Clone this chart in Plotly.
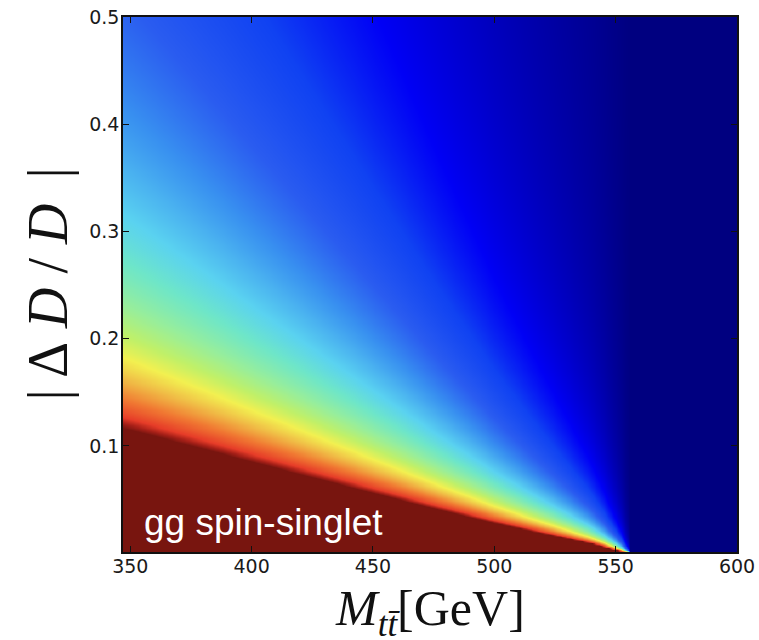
import numpy as np
import plotly.graph_objects as go

# ---- values ----
# top-pair invariant mass sample points (GeV) and the |ΔD/D| at which the
# colour saturates (dark red edge) at each of them
mass_gev = [347, 375, 400, 425, 450, 475, 500, 515, 527, 540, 556, 600]
dd_saturation = [0.117, 0.1005, 0.0855, 0.0708, 0.0562, 0.0418, 0.0282, 0.0208, 0.0152, 0.0092, 0.0, 0.0]

# colour stops (relative significance -> colour)
stop_pos = [0.0, 0.11, 0.165, 0.225, 0.282, 0.325, 0.37, 0.43, 0.505, 0.575, 0.64, 0.715, 0.815, 0.921, 0.965, 1.0]
stop_col = ["#000080", "#0000f5", "#1042f2", "#2a5cf0", "#3890f0", "#4ab2f0", "#5ad2f0", "#6ee6c8",
            "#98ee9a", "#c0f068", "#f2f050", "#f0be46", "#f07832", "#e63c28", "#a82018", "#78150f"]

x_ticks = [350, 400, 450, 500, 550, 600]
y_ticks = [0.1, 0.2, 0.3, 0.4, 0.5]
x_range = [347, 600]
y_range = [0.001, 0.5]
label_text = "gg spin-singlet"

# ---- field on a grid: significance scales as k(M) / (ΔD/D) ----
xs = np.arange(347, 600.5, 1.0)
ys = np.arange(0.001, 0.5011, 0.002)
k = np.interp(xs, mass_gev, dd_saturation)
Z = np.minimum(k[None, :] / ys[:, None], 1.02)
Z = np.round(Z, 4)

colorscale = [[p, c] for p, c in zip(stop_pos, stop_col)]

fig = go.Figure(go.Heatmap(
    x=xs, y=ys, z=Z, zmin=0, zmax=1, zsmooth="best",
    colorscale=colorscale, showscale=False, hoverinfo="skip"))

tickfont = dict(family="DejaVu Sans", size=19, color="#1a1a1a")
axis_common = dict(ticks="inside", ticklen=6, tickwidth=1.3, tickcolor="#111",
                   showline=True, linecolor="#111", linewidth=1.6, mirror="ticks",
                   showgrid=False, zeroline=False, tickfont=tickfont, automargin=False)

fig.update_xaxes(range=x_range, tickvals=x_ticks, ticktext=[str(v) for v in x_ticks],
                 ticklabelstandoff=-4, **axis_common)
fig.update_yaxes(range=y_range, tickvals=y_ticks, ticktext=[f"{v:.1f}" for v in y_ticks],
                 ticklabelstandoff=-2, **axis_common)

serif = "Liberation Serif"
fig.add_annotation(xref="paper", yref="paper", x=0.5, y=0, yanchor="middle", xanchor="center",
                   yshift=-60, showarrow=False,
                   text="<i>M</i><sub><i>tt̄</i></sub>[GeV]",
                   font=dict(family=serif, size=50, color="#111"))
fig.add_annotation(xref="paper", yref="paper", x=0, y=0.5, xanchor="center", yanchor="middle",
                   xshift=-76, textangle=-90, showarrow=False,
                   text="|\u2009Δ&nbsp;<i>D</i>&nbsp;/&nbsp;<i>D</i>&nbsp;\u2009|",
                   font=dict(family=serif, size=56, color="#111"))
fig.add_annotation(xref="paper", yref="paper", x=0.031, y=0.056, xanchor="left", yanchor="middle",
                   showarrow=False, text=label_text,
                   font=dict(family="Liberation Sans", size=37, color="white"))

fig.update_layout(width=759, height=640, margin=dict(l=123, r=22, t=17, b=88, pad=0),
                  paper_bgcolor="white", plot_bgcolor="white", template="none")

fig.write_html("out.html", config={"displayModeBar": False})
